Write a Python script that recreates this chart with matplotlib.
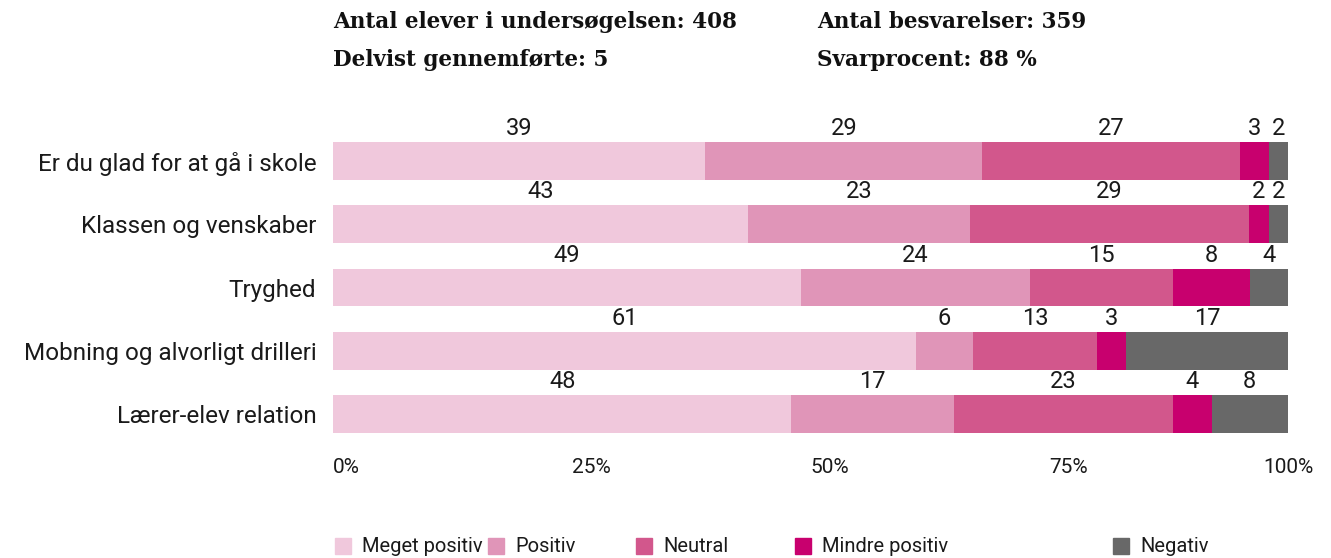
import numpy as np
import matplotlib.pyplot as plt
from matplotlib.patches import Rectangle

plt.rcParams['font.family'] = ['Roboto', 'DejaVu Sans']

categories = ["Er du glad for at gå i skole", "Klassen og venskaber", "Tryghed",
              "Mobning og alvorligt drilleri", "Lærer-elev relation"]
series = ["Meget positiv", "Positiv", "Neutral", "Mindre positiv", "Negativ"]
meget_positiv = [39, 43, 49, 61, 48]
positiv = [29, 23, 24, 6, 17]
neutral = [27, 29, 15, 13, 23]
mindre_positiv = [3, 2, 8, 3, 4]
negativ = [2, 2, 4, 17, 8]
colors = ["#f0c8dc", "#e095b8", "#d2578c", "#c8006e", "#686868"]
xticks = [0, 25, 50, 75, 100]
header_left = ["Antal elever i undersøgelsen: 408", "Delvist gennemførte: 5"]
header_right = ["Antal besvarelser: 359", "Svarprocent: 88 %"]

data = np.array([meget_positiv, positiv, neutral, mindre_positiv, negativ], dtype=float)
totals = data.sum(axis=0)
pct = data / totals * 100

fig = plt.figure(figsize=(13.31, 5.58), dpi=100)
ax = fig.add_axes([333/1331, 1-445.6/558, 955/1331, 316.2/558])

y = np.arange(len(categories))
left = np.zeros(len(categories))
for i, name in enumerate(series):
    ax.barh(y, pct[i], left=left, height=0.6, color=colors[i], linewidth=0)
    for j in range(len(categories)):
        ax.text(left[j] + pct[i][j]/2, y[j] - 0.33, str(int(data[i][j])),
                ha='center', va='bottom', fontsize=17, color='#1a1a1a')
    left += pct[i]

ax.set_xlim(0, 100)
ax.set_ylim(4.5, -0.5)
ax.set_yticks(y)
ax.set_yticklabels(categories, fontsize=17.5, color='#1a1a1a')
ax.set_xticks([])
ax.tick_params(axis='y', length=0, pad=12)
for s in ax.spines.values():
    s.set_visible(False)

# x labels below the chart
for t in xticks:
    ha = 'center' if t == 100 else 'left'
    ax.text(t, 4.84, f"{t}%", ha=ha, va='center', fontsize=15, color='#1a1a1a')

# header
for k in range(2):
    fig.text(333/1331, 1-(22+38*k)/558, header_left[k], family='DejaVu Serif',
             fontweight='bold', fontsize=15.5, va='center', color='#111111')
    fig.text(817/1331, 1-(22+38*k)/558, header_right[k], family='DejaVu Serif',
             fontweight='bold', fontsize=15.5, va='center', color='#111111')

# legend
leg_x = [335, 488, 636, 795, 1113]
for i, name in enumerate(series):
    fig.patches.append(Rectangle((leg_x[i]/1331, 1-554/558), 16/1331, 16/558,
                                 transform=fig.transFigure, color=colors[i]))
    fig.text((leg_x[i]+27)/1331, 1-546/558, name, fontsize=14.5, va='center',
             color='#1a1a1a')

fig.savefig("out.png", dpi=100)
